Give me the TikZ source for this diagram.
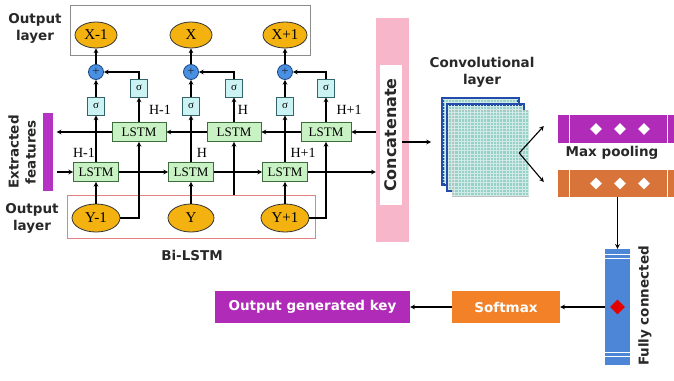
\documentclass[tikz,border=0pt]{standalone}
\usepackage{fontspec}
\setmainfont{Liberation Serif}
\newfontfamily\labelsans{DejaVu Sans}
\usepackage{tikz}
\usetikzlibrary{shapes.geometric,arrows,positioning,calc}
\definecolor{ellgold}{RGB}{244,178,17}
\definecolor{lstmgreen}{RGB}{200,242,196}
\definecolor{lstmedge}{RGB}{60,110,60}
\definecolor{sigcyan}{RGB}{204,243,243}
\definecolor{sigedge}{RGB}{50,100,105}
\definecolor{sumblue}{RGB}{74,144,226}
\definecolor{sumedge}{RGB}{30,70,130}
\definecolor{concatpink}{RGB}{247,182,202}
\definecolor{bilstmred}{RGB}{229,128,133}
\definecolor{featpurple}{RGB}{180,50,196}
\definecolor{poolpurple}{RGB}{176,44,184}
\definecolor{poolorange}{RGB}{216,116,58}
\definecolor{fcblue}{RGB}{77,134,214}
\definecolor{softorange}{RGB}{242,129,40}
\definecolor{convcyan}{RGB}{150,208,200}
\definecolor{convblue}{RGB}{35,75,170}
\definecolor{textdark}{RGB}{40,40,40}
\tikzstyle{ell} = [ellipse, draw=black!80, fill=ellgold, line width=0.8pt, inner sep=0pt,
    font=\fontsize{15}{15}\selectfont]
\tikzstyle{lstm} = [rectangle, draw=lstmedge, fill=lstmgreen, line width=0.8pt,
    minimum height=19pt, inner sep=0pt, font=\fontsize{13}{13}\selectfont]
\tikzstyle{sig} = [rectangle, draw=sigedge, fill=sigcyan, line width=0.8pt,
    minimum width=17pt, minimum height=18pt, inner sep=0pt, font=\fontsize{11}{11}\selectfont]
\tikzstyle{sumnode} = [circle, draw=sumedge, fill=sumblue, line width=0.8pt,
    minimum size=15pt, inner sep=0pt, text=black!85, font=\fontsize{13}{13}\selectfont]
\tikzstyle{hlbl} = [inner sep=0pt, font=\fontsize{14}{14}\selectfont]
\tikzstyle{lbl} = [inner sep=0pt, align=center, text=textdark,
    font=\labelsans\bfseries\fontsize{13.5}{17}\selectfont]
\tikzstyle{barbox} = [rectangle, inner sep=0pt]
\tikzstyle{convlayer} = [rectangle, inner sep=0pt, minimum width=76pt, minimum height=86pt, fill=convcyan]
\tikzstyle{convgrid} = [white!55!convcyan, line width=0.15pt, step=3.2pt]
\tikzstyle{wdiam} = [diamond, fill=white, inner sep=0pt, minimum size=12pt]
\tikzstyle{arrow} = [line width=1.1pt,->,>=stealth]

\begin{document}
\begin{tikzpicture}[x=1pt,y=-1pt]
\useasboundingbox (0,0) rectangle (674,380);
% Output layer (top)
\node[draw=black!45, line width=0.8pt, minimum width=240pt, minimum height=50pt, inner sep=0pt] (outbox) at (190,30) {};
\node[lbl] (outtop) at (35,28) {Output\\layer};
\node[ell, minimum width=42pt, minimum height=26pt] (x1) at (96,35) {X-1};
\node[ell, minimum width=42pt, minimum height=26pt] (x2) at (191,35) {X};
\node[ell, minimum width=44pt, minimum height=26pt] (x3) at (285,35) {X+1};
% Sum
\node[sumnode] (s1) at (96,72) {+};
\node[sumnode] (s2) at (191,72) {+};
\node[sumnode] (s3) at (285,72) {+};
% Sigma gates
\node[sig] (sf1) at (96,106) {σ};
\node[sig] (sf2) at (191,106) {σ};
\node[sig] (sf3) at (285,106) {σ};
\node[sig] (sb1) at (139,88) {σ};
\node[sig] (sb2) at (234,88) {σ};
\node[sig] (sb3) at (326,88) {σ};
% Backward LSTM
\node[lstm, minimum width=54pt] (b1) at (139,132) {LSTM};
\node[lstm, minimum width=54pt] (b2) at (234,132) {LSTM};
\node[lstm, minimum width=50pt] (b3) at (326,132) {LSTM};
% Forward LSTM
\node[lstm, minimum width=45pt] (f1) at (96,172) {LSTM};
\node[lstm, minimum width=45pt] (f2) at (191,172) {LSTM};
\node[lstm, minimum width=45pt] (f3) at (285,172) {LSTM};
% Hidden states
\node[hlbl] (hb1) at (160,110) {H-1};
\node[hlbl] (hb2) at (243,110) {H};
\node[hlbl] (hb3) at (349,110) {H+1};
\node[hlbl] (hf1) at (84,153) {H-1};
\node[hlbl] (hf2) at (202,153) {H};
\node[hlbl] (hf3) at (303,153) {H+1};
% Input (bottom)
\node[draw=bilstmred, line width=0.8pt, minimum width=248pt, minimum height=43pt, inner sep=0pt] (bibox) at (191,216.5) {};
\node[ell, minimum width=48pt, minimum height=28pt] (y1) at (96,218) {Y-1};
\node[ell, minimum width=46pt, minimum height=28pt] (y2) at (191,218) {Y};
\node[ell, minimum width=48pt, minimum height=28pt] (y3) at (285,218) {Y+1};
\node[lbl] (outbot) at (32,218) {Output\\layer};
\node[lbl] (bilbl) at (192,255) {Bi-LSTM};
% Extracted features
\node[barbox, fill=featpurple, minimum width=10pt, minimum height=78pt] (featbar) at (47.5,152) {};
\node[lbl, rotate=90] (feattxt) at (22,152) {Extracted\\features};
\coordinate (featin) at ([xshift=4pt]featbar.east);
% Concatenate
\node[barbox, fill=concatpink, minimum width=33pt, minimum height=224pt] (concat) at (392.5,130) {};
\node[barbox, fill=white, rotate=90, minimum width=140pt, minimum height=22pt, lbl,
    font=\labelsans\bfseries\fontsize{16}{16}\selectfont] (cattxt) at (391,135) {Concatenate};
% Convolutional layer
\node[lbl] (convtxt) at (482,72) {Convolutional\\layer};
\node[convlayer, draw=convblue, line width=3pt] (conv1) at (480,141) {};
\draw[convgrid] ([shift={(2pt,2pt)}]conv1.south west) grid ([shift={(-2pt,-2pt)}]conv1.north east);
\node[convlayer, draw=convblue, line width=3pt] (conv2) at (485,147) {};
\draw[convgrid] ([shift={(2pt,2pt)}]conv2.south west) grid ([shift={(-2pt,-2pt)}]conv2.north east);
\node[convlayer, draw=black!25, line width=0.5pt] (conv3) at (490,153) {};
\draw[convgrid] (conv3.south west) grid (conv3.north east);
\coordinate (convin) at (431,142);
\coordinate (split) at ([xshift=-9pt]conv3.east);
% Max pooling
\node[barbox, fill=poolpurple, minimum width=116pt, minimum height=28pt] (pool1) at (616,129) {};
\node[barbox, fill=poolorange, minimum width=116pt, minimum height=27pt] (pool2) at (616,183.5) {};
\foreach \p in {pool1,pool2} {
  \draw[white, line width=1pt] ([xshift=12pt]\p.north west) -- ([xshift=12pt]\p.south west);
  \draw[white, line width=1pt] ([xshift=-7pt]\p.north east) -- ([xshift=-7pt]\p.south east);
  \foreach \k/\dx in {1/-20,2/4,3/28}
    \node[wdiam] (\p-d\k) at ([xshift=\dx pt]\p.center) {};
}
\node[lbl] (pooltxt) at (612,153) {Max pooling};
% Fully connected
\node[barbox, fill=fcblue, minimum width=25pt, minimum height=116pt] (fc) at (617.5,307) {};
\foreach \y in {254,258,352,356}
  \draw[white, line width=0.8pt] (605,\y) -- (630,\y);
\node[diamond, fill=red!90!black, inner sep=0pt, minimum size=15pt] (fcdot) at (fc.center) {};
\node[lbl, rotate=90] (fctxt) at (645,306) {Fully connected};
% Softmax and output
\node[barbox, fill=softorange, minimum width=108pt, minimum height=32pt, lbl, text=white] (soft) at (506,307) {Softmax};
\node[barbox, fill=poolpurple, minimum width=195pt, minimum height=32pt, lbl, text=white] (outkey) at (312.5,307) {Output generated key};
% Arrows: forward pass
\draw[arrow] (featin |- f1) -- (f1);
\draw[arrow] (f1) -- (f2);
\draw[arrow] (f2) -- (f3);
\draw[arrow] (f3) -- (f3 -| concat.west);
% Arrows: backward pass
\draw[arrow] (b3 -| concat.west) -- (b3);
\draw[arrow] (b3) -- (b2);
\draw[arrow] (b2) -- (b1);
\draw[arrow] (b1) -- (featin |- b1);
% Arrows: columns
\draw[arrow] (y1) -- (f1);
\draw[arrow] (y2) -- (f2);
\draw[arrow] (y3) -- (f3);
\draw[arrow] (y1) -| (b1);
\draw[arrow] (b2 |- bibox.north) -- (b2);
\draw[arrow] (y3) -| (b3);
\draw[arrow] (f1) -- (sf1);
\draw[arrow] (f2) -- (sf2);
\draw[arrow] (f3) -- (sf3);
\draw[arrow] (b1) -- (sb1);
\draw[arrow] (b2) -- (sb2);
\draw[arrow] (b3) -- (sb3);
\draw[arrow] (sf1) -- (s1);
\draw[arrow] (sf2) -- (s2);
\draw[arrow] (sf3) -- (s3);
\draw[arrow] (sb1) |- (s1);
\draw[arrow] (sb2) |- (s2);
\draw[arrow] (sb3) |- (s3);
\draw[arrow] (s1) -- (x1);
\draw[arrow] (s2) -- (x2);
\draw[arrow] (s3) -- (x3);
% Arrows: CNN branch
\draw[arrow] (cattxt.south |- convin) -- (convin);
\draw[arrow] (split) -- ([xshift=-14pt,yshift=3pt]pool1.west);
\draw[arrow] (split) -- ([xshift=-14pt,yshift=1.5pt]pool2.west);
\draw[arrow] (fc.north |- pool2.south) -- (fc.north);
\draw[arrow] (fc.west) -- (soft.east);
\draw[arrow] (soft) -- (outkey);
\end{tikzpicture}
\end{document}
